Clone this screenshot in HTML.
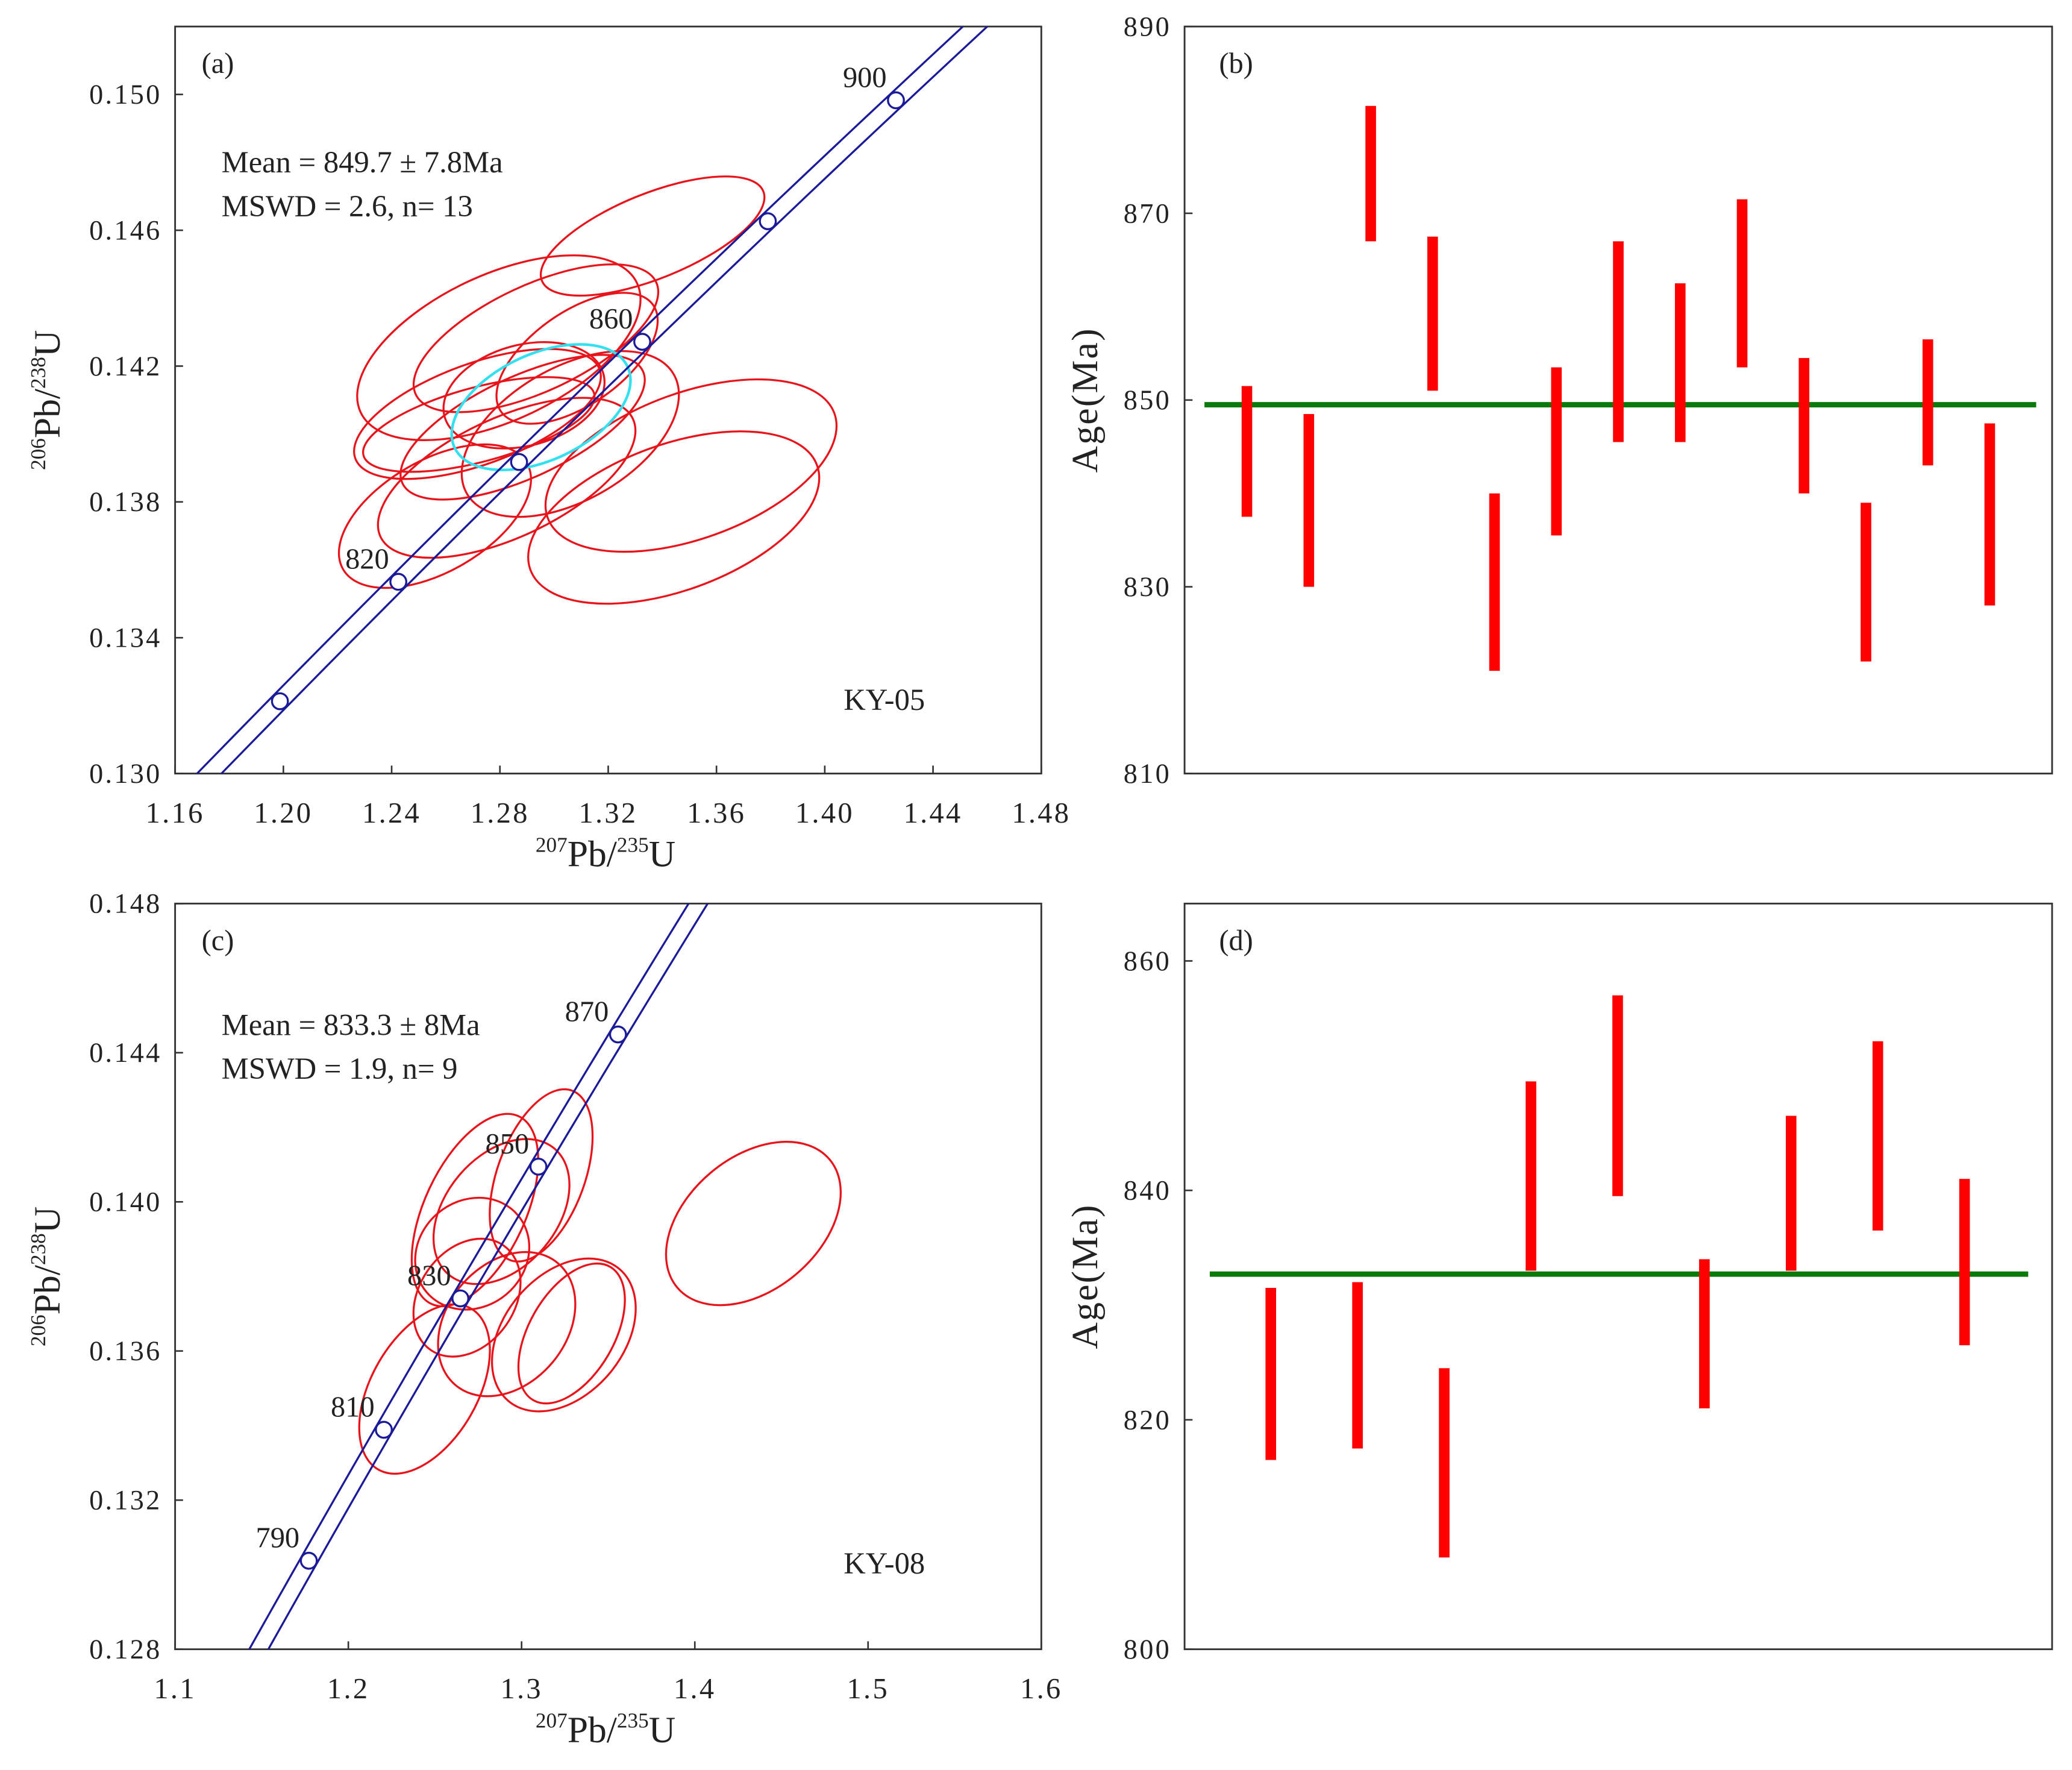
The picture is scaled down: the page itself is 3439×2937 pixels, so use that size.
<!DOCTYPE html>
<html><head><meta charset="utf-8"><style>
html,body{margin:0;padding:0;background:#fff;width:3439px;height:2937px;overflow:hidden}
svg{display:block}
text{font-family:"Liberation Serif",serif;fill:#222}
</style></head><body><svg id="fig" width="3439" height="2937" viewBox="0 0 1562 1334" xmlns="http://www.w3.org/2000/svg">
<defs>
<clipPath id="clipA"><rect x="132" y="20" width="653" height="563"/></clipPath>
<clipPath id="clipC"><rect x="132" y="681" width="653" height="562"/></clipPath>
</defs>
</svg><script>
// ---- data: panel (a) ----
const aEllX=[1.3364,1.2796,1.2933,1.3085,1.2889,1.2717,1.2722,1.2884,1.3060,1.2560,1.2825,1.3442,1.3506];
const aEllY=[0.14583,0.14254,0.14282,0.14223,0.14114,0.14059,0.14028,0.14020,0.14000,0.13758,0.13871,0.13754,0.13907];
const aEllRx=[90,115,100,70,62,98,90,100,90,80,105,115,115];
const aEllRy=[32,55,40,35,38,38,28,38,50,42,45,55,55];
const aEllRot=[-22,-25,-25,-35,-15,-20,-15,-25,-30,-30,-25,-20,-20];
const aMeanEll=[1.2952,0.14079,72,40,-25];
const aAges=[800,820,840,860,880,900];
const aAgeLabels=[820,860,900];
const aXTicks=[1.16,1.20,1.24,1.28,1.32,1.36,1.40,1.44,1.48];
const aYTicks=[0.130,0.134,0.138,0.142,0.146,0.150];
// ---- data: panel (b) ----
const bLo=[837.5,830,867,851,821,835.5,845.5,845.5,853.5,840,822,843,828];
const bHi=[851.5,848.5,881.5,867.5,840,853.5,867,862.5,871.5,854.5,839,856.5,847.5];
const bMean=849.5;
const bYTicks=[810,830,850,870,890];
// ---- data: panel (c) ----
const cEllX=[1.2731,1.3113,1.2884,1.2715,1.2685,1.2440,1.2914,1.3244,1.3289,1.4338];
const cEllY=[0.13978,0.14071,0.13974,0.13861,0.13743,0.13498,0.13672,0.13643,0.13647,0.13942];
const cEllRx=[78,68,62,45,48,70,60,65,58,75];
const cEllRy=[38,33,42,40,36,40,45,45,32,50];
const cEllRot=[-65,-70,-50,-40,-55,-60,-50,-50,-60,-40];
const cAges=[790,810,830,850,870];
const cAgeLabels=[790,810,830,850,870];
const cXTicks=[1.1,1.2,1.3,1.4,1.5,1.6];
const cYTicks=[0.128,0.132,0.136,0.140,0.144,0.148];
// ---- data: panel (d) ----
const dLo=[816.5,817.5,808,833,839.5,821,833,836.5,826.5];
const dHi=[831.5,832,824.5,849.5,857,834,846.5,853,841];
const dMean=832.7;
const dYTicks=[800,820,840,860];

const NS="http://www.w3.org/2000/svg";
const svg=document.getElementById('fig');
function mk(tag,attrs,parent){const e=document.createElementNS(NS,tag);for(const k in attrs)e.setAttribute(k,attrs[k]);(parent||svg).appendChild(e);return e;}
function txt(x,y,s,size,anchor,parent){const t=mk('text',{x:x,y:y,'font-size':size,'text-anchor':anchor||'start'},parent);t.textContent=s;return t;}
const L238=1.55125e-10,L235=9.8485e-10;
function conc(t){return [Math.exp(L235*t*1e6)-1,Math.exp(L238*t*1e6)-1];}

function frame(x0,y0,x1,y1,name){
  const r=mk('rect',{x:x0,y:y0,width:x1-x0,height:y1-y0,fill:'none',stroke:'#333','stroke-width':1.3});
  
  
}
function ratioTitle(x,y,top,bot,rot,name){
  const g=mk('g',{transform:rot?`translate(${x},${y}) rotate(-90)`:`translate(${x},${y})`});
  
  
  const t=mk('text',{x:0,y:0,'font-size':28,'text-anchor':'middle'},g);
  const s1=mk('tspan',{'font-size':16,dy:-11},t);s1.textContent=top;
  const s2=mk('tspan',{dy:11},t);s2.textContent='Pb/';
  const s3=mk('tspan',{'font-size':16,dy:-11},t);s3.textContent=bot;
  const s4=mk('tspan',{dy:11},t);s4.textContent='U';
}

function concordiaPanel(o){
  const sx=v=>o.x0+(v-o.xmin)/(o.xmax-o.xmin)*(o.x1-o.x0);
  const sy=v=>o.y1-(v-o.ymin)/(o.ymax-o.ymin)*(o.y1-o.y0);
  frame(o.x0,o.y0,o.x1,o.y1,o.id+'-plot-frame');
  o.xTicks.forEach((v,i)=>{
    const X=sx(v);
    const l=mk('line',{x1:X,x2:X,y1:o.y1,y2:o.y1-6,stroke:'#333','stroke-width':1.2});
    
    
    const t=txt(X,o.y1+37,o.xFmt(v),22,'middle');
    t.setAttribute('letter-spacing','1.5');
    
    
  });
  o.yTicks.forEach(v=>{
    const Y=sy(v);
    const l=mk('line',{x1:o.x0,x2:o.x0+6,y1:Y,y2:Y,stroke:'#333','stroke-width':1.2});
    
    
    const t=txt(o.x0-10,Y+7,v.toFixed(3),21,'end');
    t.setAttribute('letter-spacing','1.5');
    
    
  });
  const g=mk('g',{'clip-path':`url(#${o.clip})`});
  
  
  o.ex.forEach((v,i)=>{
    const e=mk('ellipse',{cx:sx(v),cy:sy(o.ey[i]),rx:o.erx[i],ry:o.ery[i],fill:'none',stroke:'#e8141b','stroke-width':1.5,transform:`rotate(${o.erot[i]} ${sx(v)} ${sy(o.ey[i])})`},g);
    
    
  });
  if(o.mean){
    const m=o.mean;
    const e=mk('ellipse',{cx:sx(m[0]),cy:sy(m[1]),rx:m[2],ry:m[3],fill:'none',stroke:'#33e0f0','stroke-width':2,transform:`rotate(${m[4]} ${sx(m[0])} ${sy(m[1])})`},g);
    
    
  }
  [-1,1].forEach(sg=>{
    let d='';
    for(let t=700;t<=1000;t+=2){const c=conc(t);d+=(d?'L':'M')+sx(c[0]+sg*o.env).toFixed(2)+','+sy(c[1]).toFixed(2);}
    const p=mk('path',{d:d,fill:'none',stroke:'#1a1a9a','stroke-width':1.5},g);
    
    
  });
  o.ages.forEach(a=>{
    const c=conc(a);
    const ci=mk('circle',{cx:sx(c[0]),cy:sy(c[1]),r:6,fill:'#fff',stroke:'#1a1a9a','stroke-width':1.5},g);
    
    
  });
  o.labels.forEach(a=>{
    const c=conc(a);
    const t=txt(sx(c[0])-7,sy(c[1])-10,String(a),22,'end');
    
    
  });
  const pl=txt(o.x0+20,o.y0+35,o.tag,22);
  
  
  const m1=txt(o.x0+35,o.y0+o.my,o.meanText,23);
  
  
  const m2=txt(o.x0+35,o.y0+o.my+33,o.mswdText,23);
  
  
  const s=txt(o.x0+504,o.y0+o.sampleY,o.sample,23);
  
  
  ratioTitle((o.x0+o.x1)/2-2,o.y1+70,'207','235',false,o.id+'-x-axis-title');
  ratioTitle(45,(o.y0+o.y1)/2,'206','238',true,o.id+'-y-axis-title');
}

function agePanel(o){
  const sy=v=>o.y1-(v-o.ymin)/(o.ymax-o.ymin)*(o.y1-o.y0);
  frame(o.x0,o.y0,o.x1,o.y1,o.id+'-plot-frame');
  o.yTicks.forEach(v=>{
    const Y=sy(v);
    const l=mk('line',{x1:o.x0,x2:o.x0+6,y1:Y,y2:Y,stroke:'#333','stroke-width':1.2});
    
    
    const t=txt(o.x0-10,Y+7,String(v),21,'end');
    t.setAttribute('letter-spacing','1.5');
    
    
  });
  const n=o.lo.length;
  const step=(o.bx1-o.bx0)/(n-1);
  const ml=mk('line',{x1:o.mx0,x2:o.mx1,y1:sy(o.mean),y2:sy(o.mean),stroke:'#0a7a0a','stroke-width':4});
  
  
  o.lo.forEach((lo,i)=>{
    const X=o.bx0+i*step;
    const r=mk('rect',{x:X-4,y:sy(o.hi[i]),width:8,height:sy(lo)-sy(o.hi[i]),fill:'#ff0000'});
    
    
  });
  const pl=txt(o.x0+26,o.y0+35,o.tag,22);
  
  
  const t=txt(0,0,'Age(Ma)',28,'middle');
  t.setAttribute('transform',`translate(${o.x0-66},${(o.y0+o.y1)/2}) rotate(-90)`);
  t.setAttribute('letter-spacing','1');
  
  
}

concordiaPanel({id:'a',x0:132,y0:20,x1:785,y1:583,xmin:1.16,xmax:1.48,ymin:0.130,ymax:0.152,clip:'clipA',
  xTicks:aXTicks,yTicks:aYTicks,xFmt:v=>v.toFixed(2),ex:aEllX,ey:aEllY,erx:aEllRx,ery:aEllRy,erot:aEllRot,mean:aMeanEll,
  ages:aAges,labels:aAgeLabels,env:0.0045,tag:'(a)',my:110,meanText:'Mean = 849.7 ± 7.8Ma',mswdText:'MSWD = 2.6, n= 13',sample:'KY-05',sampleY:515});
agePanel({id:'b',x0:893,y0:20,x1:1547,y1:583,ymin:810,ymax:890,yTicks:bYTicks,lo:bLo,hi:bHi,mean:bMean,bx0:940,bx1:1500,mx0:908,mx1:1535,tag:'(b)'});
concordiaPanel({id:'c',x0:132,y0:681,x1:785,y1:1243,xmin:1.1,xmax:1.6,ymin:0.128,ymax:0.148,clip:'clipC',
  xTicks:cXTicks,yTicks:cYTicks,xFmt:v=>v.toFixed(1),ex:cEllX,ey:cEllY,erx:cEllRx,ery:cEllRy,erot:cEllRot,mean:null,
  ages:cAges,labels:cAgeLabels,env:0.0055,tag:'(c)',my:99,meanText:'Mean = 833.3 ± 8Ma',mswdText:'MSWD = 1.9, n= 9',sample:'KY-08',sampleY:505});
agePanel({id:'d',x0:893,y0:681,x1:1547,y1:1243,ymin:800,ymax:865,yTicks:dYTicks,lo:dLo,hi:dHi,mean:dMean,bx0:958,bx1:1481,mx0:912,mx1:1529,tag:'(d)'});
</script></body></html>
